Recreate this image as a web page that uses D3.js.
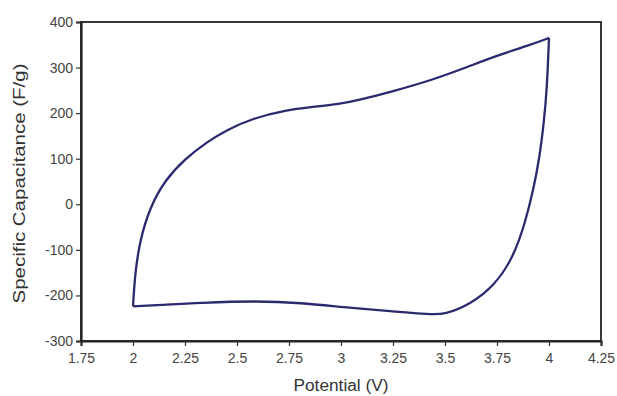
<!DOCTYPE html>
<html>
<head>
<meta charset="utf-8">
<script src="https://cdn.jsdelivr.net/npm/d3@7"></script>
<style>
  body { margin: 0; background: #fff; }
  text { font-family: Arial, "Liberation Sans", sans-serif; }
</style>
</head>
<body>
<script>
// forward (charge) scan, 2 V -> 4 V, upper branch
const fwdV = [2.0, 2.0, 2.01, 2.034, 2.082, 2.154, 2.25, 2.36, 2.45, 2.577, 2.74, 2.85, 2.995, 3.09, 3.25, 3.44, 3.6, 3.76, 3.9, 4.0, 4.0];
const fwdC = [-224, -224, -150, -78, -6, 53, 100, 138, 163, 189, 207, 213, 220, 229, 248, 273, 300, 328, 348, 365, 365];

// reverse (discharge) scan, 4 V -> 2 V, lower branch
const revV = [4.0, 4.0, 3.99, 3.975, 3.955, 3.925, 3.885, 3.83, 3.74, 3.62, 3.5, 3.42, 3.28, 3.04, 2.8, 2.6, 2.32, 2.13, 2.0, 2.0];
const revC = [365, 365, 251, 178, 104, 32, -41, -115, -178, -220, -242, -241, -236, -227, -216, -212, -216, -221, -224, -224];

const xTicks = [1.75, 2, 2.25, 2.5, 2.75, 3, 3.25, 3.5, 3.75, 4, 4.25];
const yTicks = [-300, -200, -100, 0, 100, 200, 300, 400];

const margin = { top: 22, right: 16, bottom: 55, left: 81 };
const W = 617, H = 396;
const width = W - margin.left - margin.right;
const height = H - margin.top - margin.bottom;

const svg = d3.select('body').append('svg')
    .attr('width', W)
    .attr('height', H);

const g = svg.append('g').attr('transform', `translate(${margin.left},${margin.top})`);

const x = d3.scaleLinear().domain([1.75, 4.25]).range([0, width]);
const y = d3.scaleLinear().domain([-300, 400]).range([height, 0]);

// plot frame
g.append('rect')
    .attr('width', width)
    .attr('height', height)
    .attr('fill', '#fff')
    .attr('stroke', '#222')
    .attr('stroke-width', 1.8);

const xAxis = d3.axisBottom(x).tickValues(xTicks).tickSize(5).tickFormat(d => String(d));
const yAxis = d3.axisLeft(y).tickValues(yTicks).tickSize(5).tickFormat(d => String(d));

const gx = g.append('g').attr('transform', `translate(0,${height})`).call(xAxis);
const gy = g.append('g').call(yAxis);

[gx, gy].forEach(a => {
  a.select('.domain').attr('stroke', '#222').attr('stroke-width', 2.2);
  a.selectAll('.tick line').attr('stroke', '#333').attr('stroke-width', 1.2);
  a.selectAll('.tick text')
      .attr('fill', '#444')
      .style('font-size', '14px')
      .style('font-family', 'Arial, "Liberation Sans", sans-serif');
});
gx.selectAll('.tick text').attr('dy', '1.0em');
gy.selectAll('.tick text').attr('x', -8);

// curve - basis smooths out reading noise, doubled end points keep the corners
const line = d3.line()
    .x(d => x(d[0]))
    .y(d => y(d[1]))
    .curve(d3.curveBasis);

const fwd = fwdV.map((v, i) => [v, fwdC[i]]);
const rev = revV.map((v, i) => [v, revC[i]]);

[fwd, rev].forEach(pts => {
  g.append('path')
      .datum(pts)
      .attr('d', line)
      .attr('fill', 'none')
      .attr('stroke', '#2b2a6e')
      .attr('stroke-width', 2.3)
      .attr('stroke-linejoin', 'miter');
});

// axis titles
svg.append('text')
    .attr('x', margin.left + width / 2)
    .attr('y', 391)
    .attr('text-anchor', 'middle')
    .attr('fill', '#333')
    .attr('textLength', 95)
    .attr('lengthAdjust', 'spacingAndGlyphs')
    .style('font-size', '16px')
    .text('Potential (V)');

svg.append('text')
    .attr('transform', `translate(25,${margin.top + height / 2 + 2}) rotate(-90)`)
    .attr('text-anchor', 'middle')
    .attr('fill', '#333')
    .attr('textLength', 240)
    .attr('lengthAdjust', 'spacingAndGlyphs')
    .style('font-size', '16px')
    .text('Specific Capacitance (F/g)');
</script>
</body>
</html>
